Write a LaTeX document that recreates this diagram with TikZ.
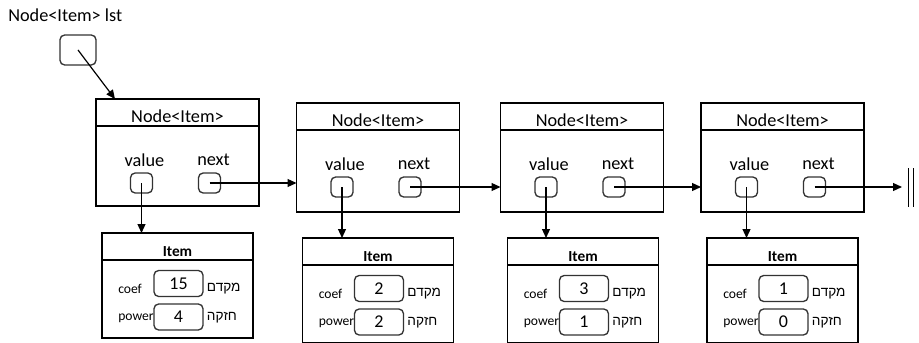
\documentclass[tikz,border=0pt]{standalone}
\usepackage{fontspec}
\setmainfont{Carlito}
\newfontfamily\hebfont[Script=Hebrew]{Liberation Sans}
\TeXXeTstate=1
\usepackage{tikz}
\usetikzlibrary{arrows.meta, positioning}
\newcommand{\pxu}{0.75pt}
\tikzset{
  listbox/.style={draw, line width=0.9pt, inner sep=0pt, outer sep=0pt, minimum width=163*\pxu},
  itembox/.style={draw, line width=0.9pt, inner sep=0pt, outer sep=0pt, minimum width=151*\pxu, minimum height=105*\pxu},
  slot/.style={draw=black!80, line width=1pt, rounded corners=3.5pt, inner sep=0pt, minimum width=22*\pxu, minimum height=20*\pxu},
  field/.style={draw=black!80, line width=1pt, rounded corners=3.5pt, inner sep=0pt, minimum width=49*\pxu, minimum height=26*\pxu, font=\fontsize{13.5}{15}\selectfont},
  lbl/.style={inner sep=0pt, font=\fontsize{13.7}{16}\selectfont},
  small/.style={inner sep=0pt, font=\fontsize{10.2}{12}\selectfont},
  ptr/.style={line width=0.9pt, -{Triangle[length=6.75pt, width=6pt]}}
}
\begin{document}
\begin{tikzpicture}[x=0.75pt, y=-0.75pt]
\useasboundingbox (0,0) rectangle (919,342);
\clip (0,0) rectangle (919,342);
% head pointer
\node[lbl, anchor=west] (lstname) at (8,15) {Node<Item> lst};
\node[slot, minimum width=36*\pxu, minimum height=30*\pxu] (lst) at (78,50) {};
% list nodes
\foreach \i/\cx/\ty/\hh in {1/177.5/99/107, 2/378/103/109, 3/582/103/109, 4/782.5/103/109} {
  \node[listbox, minimum height=\hh*\pxu] (n\i) at (\cx,\ty+\hh/2) {};
  \draw[line width=0.9pt] ([yshift=-27*\pxu]n\i.north west) -- ([yshift=-27*\pxu]n\i.north east);
  \node[lbl] (t\i) at (\cx,\ty+17) {Node<Item>};
  \node[lbl] (vl\i) at (\cx-33,\ty+61) {value};
  \node[lbl] (nl\i) at (\cx+36,\ty+61) {next};
  \node[slot] (val\i) at (\cx-36,\ty+84) {};
  \node[slot] (nx\i) at (\cx+32,\ty+84) {};
}
% items
\foreach \i/\cx/\ty/\cv/\pv in {1/177.5/233/15/4, 2/378/238/2/2, 3/583/238/3/1, 4/782.5/238/1/0} {
  \node[itembox] (it\i) at (\cx,\ty+52.5) {};
  \draw[line width=0.9pt] ([yshift=-27*\pxu]it\i.north west) -- ([yshift=-27*\pxu]it\i.north east);
  \node[inner sep=0pt, font=\fontsize{11.5}{13}\selectfont\bfseries] (itt\i) at (\cx,\ty+19) {Item};
  \node[field] (cf\i) at (\cx+1,\ty+50.5) {\cv};
  \node[field] (pw\i) at (\cx+1,\ty+84) {\pv};
  \node[small, anchor=west] (cfl\i) at (\cx-59.5,\ty+56) {coef};
  \node[small, anchor=west] (pwl\i) at (\cx-59.5,\ty+85) {power};
  \node[small, anchor=west] (cfh\i) at ([xshift=3*\pxu]cf\i.east |- cfl\i) {\hebfont\beginR מקדם\endR};
  \node[small, anchor=west] (pwh\i) at ([xshift=3*\pxu]pw\i.east |- pwl\i) {\hebfont\beginR חזקה\endR};
}
% pointers
\coordinate (entry) at ([xshift=19*\pxu]n1.north west);
\draw[ptr] (lst.center) -- (entry);
\foreach \i [evaluate=\i as \j using int(\i+1)] in {1,2,3} {
  \draw[ptr] (nx\i.center) -- (nx\i.center -| n\j.west);
}
\foreach \i in {1,...,4} {
  \draw[ptr] (val\i.center) -- (val\i.center |- it\i.north);
}
% null end
\coordinate (nil) at (902,187);
\draw[ptr] (nx4.center) -- (nil);
\draw[line width=0.7pt] ([xshift=6*\pxu, yshift=19*\pxu]nil) -- ++(0,39);
\draw[line width=0.7pt] ([xshift=11*\pxu, yshift=19*\pxu]nil) -- ++(0,39);
\end{tikzpicture}
\end{document}
